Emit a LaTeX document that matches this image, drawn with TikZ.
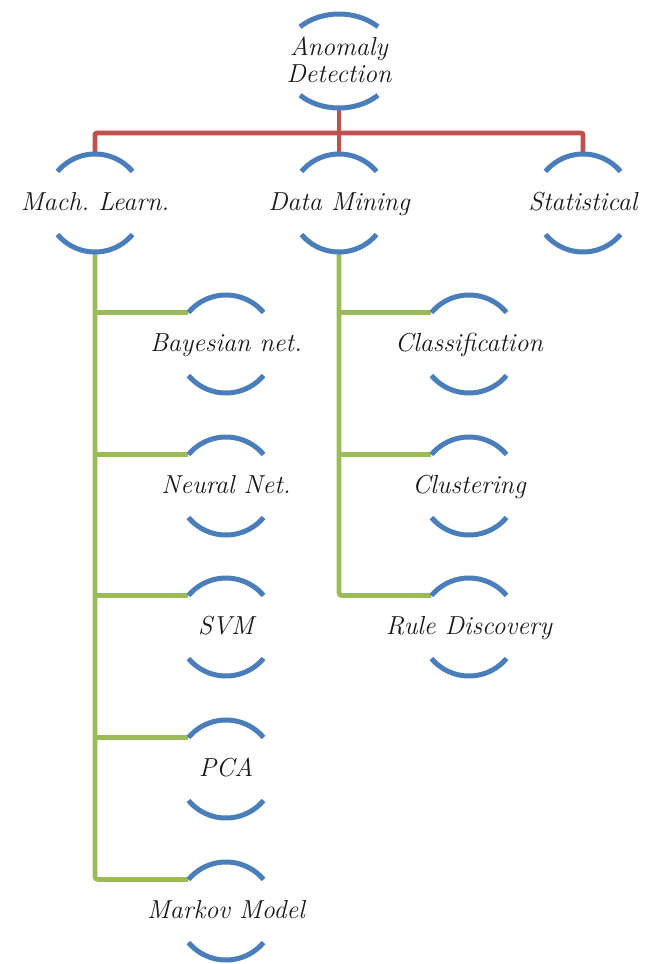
\documentclass[tikz,border=0pt]{standalone}
\usetikzlibrary{backgrounds,calc}
\definecolor{arcblue}{HTML}{4A7EBB}
\definecolor{linered}{HTML}{C0504D}
\definecolor{linegreen}{HTML}{9BBB59}
\frenchspacing
\tikzset{
  lbl/.style={font=\fontsize{26}{27}\selectfont\itshape, inner sep=0pt, text=black!90},
  arcline/.style={draw=arcblue, line width=5pt},
  redline/.style={draw=linered, line width=4.8pt, rounded corners=2pt},
  greenline/.style={draw=linegreen, line width=4.8pt, rounded corners=3pt},
}
% bubble: name, x, y, text
\newcommand\bubnode[4]{%
  \coordinate (#1) at (#2,#3);
  \node[lbl, anchor=base] (#1t) at ([yshift=-7pt]#1) {#4};
  \draw[arcline] ([shift={(40:49pt)}]#1) arc[start angle=40, end angle=140, radius=49pt];
  \draw[arcline] ([shift={(220:49pt)}]#1) arc[start angle=220, end angle=320, radius=49pt];
  \coordinate (#1-n) at ([yshift=49pt]#1);
  \coordinate (#1-s) at ([yshift=-49pt]#1);
  \coordinate (#1-w) at ([shift={(140:49pt)}]#1);
}
\begin{document}
\begin{tikzpicture}[x=1pt, y=-1pt]
\useasboundingbox (0,0) rectangle (649,964);
% root
\coordinate (root) at (339,61);
\node[lbl, anchor=base, align=center] (roott) at (339,82) {Anomaly\\Detection};
\draw[arcline] ([shift={(46.8:57pt and 47pt)}]root) arc[start angle=46.8, end angle=133.2, x radius=57pt, y radius=47pt];
\draw[arcline] ([shift={(226.8:57pt and 47pt)}]root) arc[start angle=226.8, end angle=313.2, x radius=57pt, y radius=47pt];
\coordinate (root-s) at ([yshift=-47pt]root);
% level 1
\bubnode{ml}{95}{203}{Mach. Learn.}
\bubnode{dm}{339}{203}{Data Mining}
\bubnode{st}{583}{203}{Statistical}
% ML children
\bubnode{ba}{226}{344}{Bayesian net.}
\bubnode{nn}{226}{486}{Neural Net.}
\bubnode{sv}{226}{627}{SVM}
\bubnode{pc}{226}{769}{PCA}
\bubnode{mk}{226}{911}{Markov Model}
% DM children
\bubnode{cl}{469}{344}{Classification}
\bubnode{cu}{469}{486}{Clustering}
\bubnode{rd}{469}{627}{Rule Discovery}
\coordinate (bus) at (339,133);
\begin{scope}[on background layer]
  \draw[redline] (ml-n) |- (bus) -| (st-n);
  \draw[redline] (root-s) -- (dm-n);
  \draw[greenline] (ml-s) |- (mk-w);
  \draw[greenline] (ml-s |- ba-w) -- (ba-w);
  \draw[greenline] (ml-s |- nn-w) -- (nn-w);
  \draw[greenline] (ml-s |- sv-w) -- (sv-w);
  \draw[greenline] (ml-s |- pc-w) -- (pc-w);
  \draw[greenline] (dm-s) |- (rd-w);
  \draw[greenline] (dm-s |- cl-w) -- (cl-w);
  \draw[greenline] (dm-s |- cu-w) -- (cu-w);
\end{scope}
\end{tikzpicture}
\end{document}
